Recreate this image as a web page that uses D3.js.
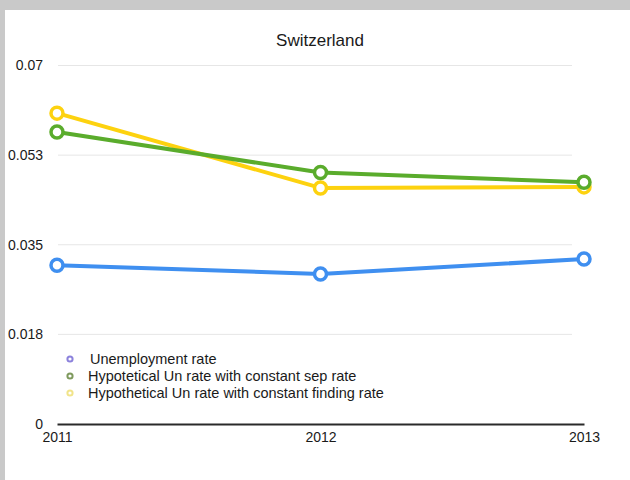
<!DOCTYPE html>
<html>
<head>
<meta charset="utf-8">
<script src="https://cdn.jsdelivr.net/npm/d3@7"></script>
<style>
  html, body { margin: 0; padding: 0; background: #c9c9c9; }
  svg { display: block; font-family: "Liberation Sans", Arial, Helvetica, sans-serif; }
</style>
</head>
<body>
<svg id="chart" width="630" height="480"></svg>
<script>
// Years on the horizontal axis
const years = [2011, 2012, 2013];

// Series values
const unemploymentRate = [0.0310, 0.0293, 0.0322];
const constSepRate = [0.0570, 0.0491, 0.0472];
const constFindingRate = [0.0607, 0.0461, 0.0463];

// Y axis ticks and their printed labels
const yTicks = [0, 0.0175, 0.035, 0.0525, 0.07];
const yTickLabels = ["0", "0.018", "0.035", "0.053", "0.07"];

const seriesNames = [
  "Unemployment rate",
  "Hypotetical Un rate with constant sep rate",
  "Hypothetical Un rate with constant finding rate"
];

const series = [
  { name: seriesNames[0], values: unemploymentRate, color: "#3f8ff0", legendColor: "#8c82dc" },
  { name: seriesNames[1], values: constSepRate, color: "#5aac2c", legendColor: "#7f9a5e" },
  { name: seriesNames[2], values: constFindingRate, color: "#fdd20f", legendColor: "#f1e48a" }
];

const svg = d3.select("#chart");

// white panel inside the grey frame
svg.append("rect")
  .attr("x", 5).attr("y", 10)
  .attr("width", 625).attr("height", 470)
  .attr("fill", "#ffffff");

const x = d3.scalePoint().domain(years).range([57, 584]);
const y = d3.scaleLinear().domain([0, 0.07]).range([424, 65.5]);

// title
svg.append("text")
  .attr("x", 320).attr("y", 46)
  .attr("text-anchor", "middle")
  .attr("font-size", 17)
  .attr("fill", "#1a1a1a")
  .text("Switzerland");

// horizontal grid lines
svg.append("g")
  .selectAll("line")
  .data(yTicks.filter(d => d > 0))
  .join("line")
  .attr("x1", 58).attr("x2", 572)
  .attr("y1", d => y(d)).attr("y2", d => y(d))
  .attr("stroke", "#e6e6e6")
  .attr("stroke-width", 1);

// y axis labels
const yAxis = d3.axisLeft(y)
  .tickValues(yTicks)
  .tickFormat((d, i) => yTickLabels[i])
  .tickSize(0)
  .tickPadding(0);
const gy = svg.append("g").attr("transform", "translate(43,0)").call(yAxis);
gy.select(".domain").remove();
gy.selectAll("text")
  .attr("font-size", 14)
  .attr("fill", "#1a1a1a")
  .attr("font-family", "Liberation Sans, Arial, sans-serif");

// x axis
const xAxis = d3.axisBottom(x).tickSize(0).tickPadding(8);
const gx = svg.append("g").attr("transform", `translate(0,${y(0)})`).call(xAxis);
gx.select(".domain").attr("stroke", "#2a2a2a").attr("stroke-width", 2);
gx.selectAll("text")
  .attr("font-size", 14)
  .attr("fill", "#1a1a1a")
  .attr("font-family", "Liberation Sans, Arial, sans-serif");

// lines and markers
const line = d3.line()
  .x((d, i) => x(years[i]))
  .y(d => y(d));

const drawOrder = [series[0], series[2], series[1]];
drawOrder.forEach(s => {
  const g = svg.append("g");
  g.append("path")
    .attr("d", line(s.values))
    .attr("fill", "none")
    .attr("stroke", s.color)
    .attr("stroke-width", 4)
    .attr("stroke-linejoin", "round");
  g.selectAll("circle")
    .data(s.values)
    .join("circle")
    .attr("cx", (d, i) => x(years[i]))
    .attr("cy", d => y(d))
    .attr("r", 6)
    .attr("fill", "#ffffff")
    .attr("stroke", s.color)
    .attr("stroke-width", 3.5);
});

// legend
const legend = svg.append("g").attr("transform", "translate(70,359)");
series.forEach((s, i) => {
  const row = legend.append("g").attr("transform", `translate(0,${i * 17})`);
  row.append("circle")
    .attr("cx", 0).attr("cy", 0).attr("r", 2.6)
    .attr("fill", "#ffffff")
    .attr("stroke", s.legendColor)
    .attr("stroke-width", 2);
  row.append("text")
    .attr("x", i === 0 ? 20 : 18).attr("y", 5)
    .attr("font-size", 14.5)
    .attr("fill", "#1a1a1a")
    .text(s.name);
});
</script>
</body>
</html>
